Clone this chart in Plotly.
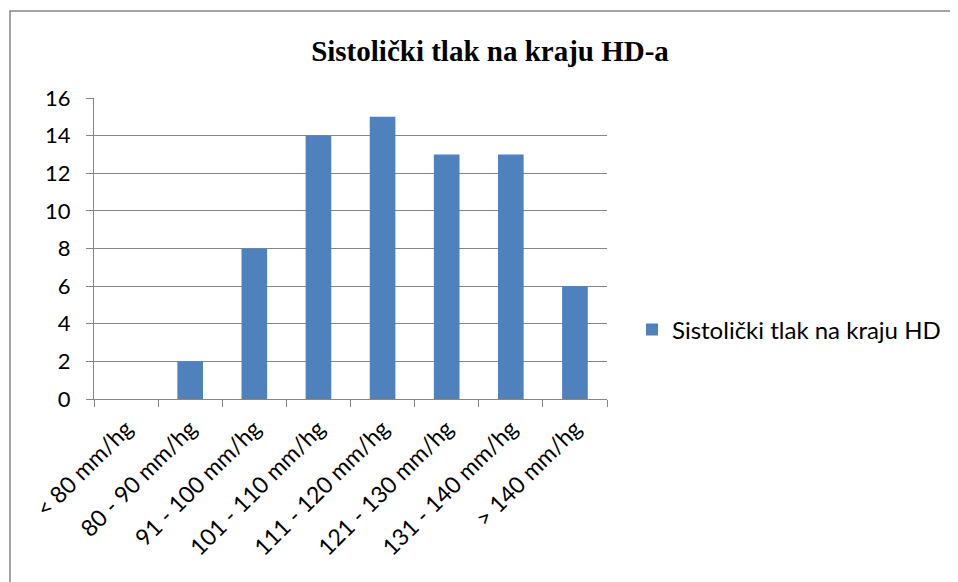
import plotly.graph_objects as go

categories = ["< 80 mm/hg", "80 - 90 mm/hg", "91 - 100 mm/hg", "101 - 110 mm/hg",
              "111 - 120 mm/hg", "121 - 130 mm/hg", "131 - 140 mm/hg", "> 140 mm/hg"]
values = [0, 2, 8, 14, 15, 13, 13, 6]
series_name = "Sistolički tlak na kraju HD"
title_text = "Sistolički tlak na kraju HD-a"
y_ticks = [0, 2, 4, 6, 8, 10, 12, 14, 16]

# page is offset by the default 8px body margin
O = 8
W, H = 958 - O, 582 - O
L, R, T, B = 94 - O, 607 - O, 98 - O, 399 - O

def px_x(px):
    return (px - O - L) / (R - L)

def px_y(py):
    return (B - (py - O)) / (B - T)

fig = go.Figure()
fig.add_trace(go.Bar(
    x=categories, y=values, name=series_name,
    marker=dict(color="#4F81BD", line=dict(width=0)),
    width=0.4,
))

fig.update_layout(
    width=W, height=H,
    margin=dict(l=L, r=W - R, t=T, b=H - B, autoexpand=False),
    paper_bgcolor="white", plot_bgcolor="white",
    title=dict(text="<b>" + title_text + "</b>", x=(490 - O) / W,
               xanchor="center", y=1 - (51 - O) / H, yanchor="middle",
               font=dict(family="Liberation Serif", size=29, color="black")),
    showlegend=True,
    legend=dict(x=px_x(632), xanchor="left", y=px_y(330), yanchor="middle",
                font=dict(family="Lato", size=24, color="black"),
                itemwidth=30, bgcolor="rgba(0,0,0,0)"),
    bargap=0.6,
    font=dict(family="Lato", size=22, color="black"),
)

fig.update_xaxes(
    type="category", showgrid=False, showline=True, linecolor="#868686", linewidth=1,
    ticks="outside", ticklen=7, tickcolor="#868686", tickson="boundaries",
    tickangle=-45, tickfont=dict(family="Lato", size=23, color="black"),
    range=[-0.5, 7.5], ticklabelstandoff=6,
)
fig.update_yaxes(
    range=[0, 16], tickvals=y_ticks, showgrid=True, gridcolor="#868686", gridwidth=1,
    showline=True, linecolor="#868686", linewidth=1, ticks="outside", ticklen=7,
    tickcolor="#868686", tickfont=dict(family="Lato", size=22, color="black"),
    zeroline=False, ticklabelstandoff=11,
)

fig.add_shape(type="rect", xref="paper", yref="paper",
              x0=px_x(10), x1=px_x(990), y0=px_y(620), y1=px_y(11),
              line=dict(color="#868686", width=1.5), fillcolor="rgba(0,0,0,0)", layer="below")

fig.write_html("out.html")
